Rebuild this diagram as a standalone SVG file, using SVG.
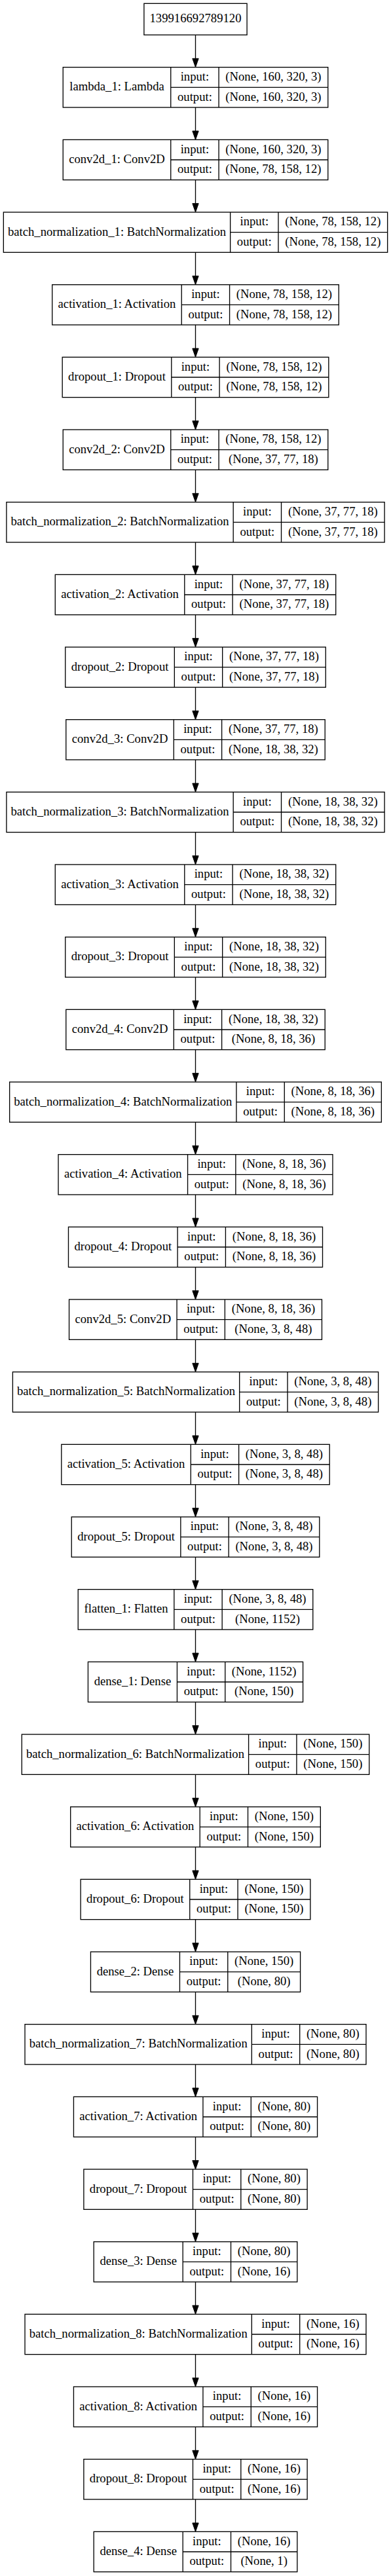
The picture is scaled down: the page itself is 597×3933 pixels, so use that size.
<svg xmlns="http://www.w3.org/2000/svg" width="597" height="3933" viewBox="0 0 597 3933">
<style>
.b{fill:none;stroke:#000;stroke-width:1.33}
.t{font-family:"Liberation Serif","Times New Roman",serif;font-size:18.67px;text-anchor:middle;fill:#000}
.e{stroke:#000;stroke-width:1.33;fill:none;marker-end:url(#ah)}
</style>
<defs>
<marker id="ah" markerUnits="userSpaceOnUse" markerWidth="14" markerHeight="10" refX="0" refY="4.67" orient="auto" overflow="visible"><path d="M0,0 L13.33,4.67 L0,9.33 z" fill="#000" stroke="#000" stroke-width="1"/></marker>
</defs>
<rect x="0" y="0" width="597" height="3933" fill="#fff"/>

<g id="connectors">
<line class="e" x1="298.5" y1="53.33" x2="298.5" y2="89.33"/>
<line class="e" x1="298.5" y1="164" x2="298.5" y2="200"/>
<line class="e" x1="298.5" y1="274.67" x2="298.5" y2="310.67"/>
<line class="e" x1="298.5" y1="385.33" x2="298.5" y2="421.33"/>
<line class="e" x1="298.5" y1="496" x2="298.5" y2="532"/>
<line class="e" x1="298.5" y1="606.67" x2="298.5" y2="642.67"/>
<line class="e" x1="298.5" y1="717.33" x2="298.5" y2="753.33"/>
<line class="e" x1="298.5" y1="828" x2="298.5" y2="864"/>
<line class="e" x1="298.5" y1="938.67" x2="298.5" y2="974.67"/>
<line class="e" x1="298.5" y1="1049.33" x2="298.5" y2="1085.33"/>
<line class="e" x1="298.5" y1="1160" x2="298.5" y2="1196"/>
<line class="e" x1="298.5" y1="1270.67" x2="298.5" y2="1306.67"/>
<line class="e" x1="298.5" y1="1381.33" x2="298.5" y2="1417.33"/>
<line class="e" x1="298.5" y1="1492" x2="298.5" y2="1528"/>
<line class="e" x1="298.5" y1="1602.67" x2="298.5" y2="1638.67"/>
<line class="e" x1="298.5" y1="1713.33" x2="298.5" y2="1749.33"/>
<line class="e" x1="298.5" y1="1824" x2="298.5" y2="1860"/>
<line class="e" x1="298.5" y1="1934.67" x2="298.5" y2="1970.67"/>
<line class="e" x1="298.5" y1="2045.33" x2="298.5" y2="2081.33"/>
<line class="e" x1="298.5" y1="2156" x2="298.5" y2="2192"/>
<line class="e" x1="298.5" y1="2266.67" x2="298.5" y2="2302.67"/>
<line class="e" x1="298.5" y1="2377.33" x2="298.5" y2="2413.33"/>
<line class="e" x1="298.5" y1="2488" x2="298.5" y2="2524"/>
<line class="e" x1="298.5" y1="2598.67" x2="298.5" y2="2634.67"/>
<line class="e" x1="298.5" y1="2709.33" x2="298.5" y2="2745.33"/>
<line class="e" x1="298.5" y1="2820" x2="298.5" y2="2856"/>
<line class="e" x1="298.5" y1="2930.67" x2="298.5" y2="2966.67"/>
<line class="e" x1="298.5" y1="3041.33" x2="298.5" y2="3077.33"/>
<line class="e" x1="298.5" y1="3152" x2="298.5" y2="3188"/>
<line class="e" x1="298.5" y1="3262.67" x2="298.5" y2="3298.67"/>
<line class="e" x1="298.5" y1="3373.33" x2="298.5" y2="3409.33"/>
<line class="e" x1="298.5" y1="3484" x2="298.5" y2="3520"/>
<line class="e" x1="298.5" y1="3594.67" x2="298.5" y2="3630.67"/>
<line class="e" x1="298.5" y1="3705.33" x2="298.5" y2="3741.33"/>
<line class="e" x1="298.5" y1="3816" x2="298.5" y2="3852"/>
</g>

<g id="n_input">
<rect class="b" x="219.9" y="5.33" width="157.2" height="48"/>
<text class="t" x="298.5" y="34.27">139916692789120</text>
</g>

<g id="n_lambda_1" transform="translate(0,102.67)">
<rect class="b" x="96.24" y="0" width="404.53" height="61.33"/>
<path class="b" d="M260.74,0V61.33M334.07,0V61.33M260.74,30.67H500.77"/>
<text class="t" x="178.49" y="35.6">lambda_1: Lambda</text>
<text class="t" x="297.41" y="20.27">input:</text><text class="t" x="297.41" y="50.93">output:</text>
<text class="t" x="417.42" y="20.27">(None, 160, 320, 3)</text><text class="t" x="417.42" y="50.93">(None, 160, 320, 3)</text>
</g>

<g id="n_conv2d_1" transform="translate(0,213.33)">
<rect class="b" x="96.24" y="0" width="404.53" height="61.33"/>
<path class="b" d="M260.74,0V61.33M334.07,0V61.33M260.74,30.67H500.77"/>
<text class="t" x="178.49" y="35.6">conv2d_1: Conv2D</text>
<text class="t" x="297.41" y="20.27">input:</text><text class="t" x="297.41" y="50.93">output:</text>
<text class="t" x="417.42" y="20.27">(None, 160, 320, 3)</text><text class="t" x="417.42" y="50.93">(None, 78, 158, 12)</text>
</g>

<g id="n_batch_normalization_1" transform="translate(0,324)">
<rect class="b" x="5.34" y="0" width="586.33" height="61.33"/>
<path class="b" d="M351.64,0V61.33M424.97,0V61.33M351.64,30.67H591.67"/>
<text class="t" x="178.49" y="35.6">batch_normalization_1: BatchNormalization</text>
<text class="t" x="388.31" y="20.27">input:</text><text class="t" x="388.31" y="50.93">output:</text>
<text class="t" x="508.32" y="20.27">(None, 78, 158, 12)</text><text class="t" x="508.32" y="50.93">(None, 78, 158, 12)</text>
</g>

<g id="n_activation_1" transform="translate(0,434.67)">
<rect class="b" x="79.74" y="0" width="437.53" height="61.33"/>
<path class="b" d="M277.24,0V61.33M350.57,0V61.33M277.24,30.67H517.27"/>
<text class="t" x="178.49" y="35.6">activation_1: Activation</text>
<text class="t" x="313.91" y="20.27">input:</text><text class="t" x="313.91" y="50.93">output:</text>
<text class="t" x="433.92" y="20.27">(None, 78, 158, 12)</text><text class="t" x="433.92" y="50.93">(None, 78, 158, 12)</text>
</g>

<g id="n_dropout_1" transform="translate(0,545.33)">
<rect class="b" x="95.19" y="0" width="406.63" height="61.33"/>
<path class="b" d="M261.79,0V61.33M335.12,0V61.33M261.79,30.67H501.82"/>
<text class="t" x="178.49" y="35.6">dropout_1: Dropout</text>
<text class="t" x="298.46" y="20.27">input:</text><text class="t" x="298.46" y="50.93">output:</text>
<text class="t" x="418.47" y="20.27">(None, 78, 158, 12)</text><text class="t" x="418.47" y="50.93">(None, 78, 158, 12)</text>
</g>

<g id="n_conv2d_2" transform="translate(0,656)">
<rect class="b" x="96.24" y="0" width="404.53" height="61.33"/>
<path class="b" d="M260.74,0V61.33M334.07,0V61.33M260.74,30.67H500.77"/>
<text class="t" x="178.49" y="35.6">conv2d_2: Conv2D</text>
<text class="t" x="297.41" y="20.27">input:</text><text class="t" x="297.41" y="50.93">output:</text>
<text class="t" x="417.42" y="20.27">(None, 78, 158, 12)</text><text class="t" x="417.42" y="50.93">(None, 37, 77, 18)</text>
</g>

<g id="n_batch_normalization_2" transform="translate(0,766.67)">
<rect class="b" x="9.89" y="0" width="577.23" height="61.33"/>
<path class="b" d="M356.19,0V61.33M429.52,0V61.33M356.19,30.67H587.12"/>
<text class="t" x="183.04" y="35.6">batch_normalization_2: BatchNormalization</text>
<text class="t" x="392.86" y="20.27">input:</text><text class="t" x="392.86" y="50.93">output:</text>
<text class="t" x="508.32" y="20.27">(None, 37, 77, 18)</text><text class="t" x="508.32" y="50.93">(None, 37, 77, 18)</text>
</g>

<g id="n_activation_2" transform="translate(0,877.33)">
<rect class="b" x="84.29" y="0" width="428.43" height="61.33"/>
<path class="b" d="M281.79,0V61.33M355.12,0V61.33M281.79,30.67H512.72"/>
<text class="t" x="183.04" y="35.6">activation_2: Activation</text>
<text class="t" x="318.46" y="20.27">input:</text><text class="t" x="318.46" y="50.93">output:</text>
<text class="t" x="433.92" y="20.27">(None, 37, 77, 18)</text><text class="t" x="433.92" y="50.93">(None, 37, 77, 18)</text>
</g>

<g id="n_dropout_2" transform="translate(0,988)">
<rect class="b" x="99.74" y="0" width="397.53" height="61.33"/>
<path class="b" d="M266.34,0V61.33M339.67,0V61.33M266.34,30.67H497.27"/>
<text class="t" x="183.04" y="35.6">dropout_2: Dropout</text>
<text class="t" x="303.01" y="20.27">input:</text><text class="t" x="303.01" y="50.93">output:</text>
<text class="t" x="418.47" y="20.27">(None, 37, 77, 18)</text><text class="t" x="418.47" y="50.93">(None, 37, 77, 18)</text>
</g>

<g id="n_conv2d_3" transform="translate(0,1098.67)">
<rect class="b" x="100.79" y="0" width="395.43" height="61.33"/>
<path class="b" d="M265.29,0V61.33M338.62,0V61.33M265.29,30.67H496.22"/>
<text class="t" x="183.04" y="35.6">conv2d_3: Conv2D</text>
<text class="t" x="301.96" y="20.27">input:</text><text class="t" x="301.96" y="50.93">output:</text>
<text class="t" x="417.42" y="20.27">(None, 37, 77, 18)</text><text class="t" x="417.42" y="50.93">(None, 18, 38, 32)</text>
</g>

<g id="n_batch_normalization_3" transform="translate(0,1209.33)">
<rect class="b" x="9.89" y="0" width="577.23" height="61.33"/>
<path class="b" d="M356.19,0V61.33M429.52,0V61.33M356.19,30.67H587.12"/>
<text class="t" x="183.04" y="35.6">batch_normalization_3: BatchNormalization</text>
<text class="t" x="392.86" y="20.27">input:</text><text class="t" x="392.86" y="50.93">output:</text>
<text class="t" x="508.32" y="20.27">(None, 18, 38, 32)</text><text class="t" x="508.32" y="50.93">(None, 18, 38, 32)</text>
</g>

<g id="n_activation_3" transform="translate(0,1320)">
<rect class="b" x="84.29" y="0" width="428.43" height="61.33"/>
<path class="b" d="M281.79,0V61.33M355.12,0V61.33M281.79,30.67H512.72"/>
<text class="t" x="183.04" y="35.6">activation_3: Activation</text>
<text class="t" x="318.46" y="20.27">input:</text><text class="t" x="318.46" y="50.93">output:</text>
<text class="t" x="433.92" y="20.27">(None, 18, 38, 32)</text><text class="t" x="433.92" y="50.93">(None, 18, 38, 32)</text>
</g>

<g id="n_dropout_3" transform="translate(0,1430.67)">
<rect class="b" x="99.74" y="0" width="397.53" height="61.33"/>
<path class="b" d="M266.34,0V61.33M339.67,0V61.33M266.34,30.67H497.27"/>
<text class="t" x="183.04" y="35.6">dropout_3: Dropout</text>
<text class="t" x="303.01" y="20.27">input:</text><text class="t" x="303.01" y="50.93">output:</text>
<text class="t" x="418.47" y="20.27">(None, 18, 38, 32)</text><text class="t" x="418.47" y="50.93">(None, 18, 38, 32)</text>
</g>

<g id="n_conv2d_4" transform="translate(0,1541.33)">
<rect class="b" x="100.79" y="0" width="395.43" height="61.33"/>
<path class="b" d="M265.29,0V61.33M338.62,0V61.33M265.29,30.67H496.22"/>
<text class="t" x="183.04" y="35.6">conv2d_4: Conv2D</text>
<text class="t" x="301.96" y="20.27">input:</text><text class="t" x="301.96" y="50.93">output:</text>
<text class="t" x="417.42" y="20.27">(None, 18, 38, 32)</text><text class="t" x="417.42" y="50.93">(None, 8, 18, 36)</text>
</g>

<g id="n_batch_normalization_4" transform="translate(0,1652)">
<rect class="b" x="14.64" y="0" width="567.73" height="61.33"/>
<path class="b" d="M360.94,0V61.33M434.27,0V61.33M360.94,30.67H582.37"/>
<text class="t" x="187.79" y="35.6">batch_normalization_4: BatchNormalization</text>
<text class="t" x="397.61" y="20.27">input:</text><text class="t" x="397.61" y="50.93">output:</text>
<text class="t" x="508.32" y="20.27">(None, 8, 18, 36)</text><text class="t" x="508.32" y="50.93">(None, 8, 18, 36)</text>
</g>

<g id="n_activation_4" transform="translate(0,1762.67)">
<rect class="b" x="89.04" y="0" width="418.93" height="61.33"/>
<path class="b" d="M286.54,0V61.33M359.87,0V61.33M286.54,30.67H507.97"/>
<text class="t" x="187.79" y="35.6">activation_4: Activation</text>
<text class="t" x="323.21" y="20.27">input:</text><text class="t" x="323.21" y="50.93">output:</text>
<text class="t" x="433.92" y="20.27">(None, 8, 18, 36)</text><text class="t" x="433.92" y="50.93">(None, 8, 18, 36)</text>
</g>

<g id="n_dropout_4" transform="translate(0,1873.33)">
<rect class="b" x="104.49" y="0" width="388.03" height="61.33"/>
<path class="b" d="M271.09,0V61.33M344.42,0V61.33M271.09,30.67H492.52"/>
<text class="t" x="187.79" y="35.6">dropout_4: Dropout</text>
<text class="t" x="307.76" y="20.27">input:</text><text class="t" x="307.76" y="50.93">output:</text>
<text class="t" x="418.47" y="20.27">(None, 8, 18, 36)</text><text class="t" x="418.47" y="50.93">(None, 8, 18, 36)</text>
</g>

<g id="n_conv2d_5" transform="translate(0,1984)">
<rect class="b" x="105.54" y="0" width="385.93" height="61.33"/>
<path class="b" d="M270.04,0V61.33M343.37,0V61.33M270.04,30.67H491.47"/>
<text class="t" x="187.79" y="35.6">conv2d_5: Conv2D</text>
<text class="t" x="306.71" y="20.27">input:</text><text class="t" x="306.71" y="50.93">output:</text>
<text class="t" x="417.42" y="20.27">(None, 8, 18, 36)</text><text class="t" x="417.42" y="50.93">(None, 3, 8, 48)</text>
</g>

<g id="n_batch_normalization_5" transform="translate(0,2094.67)">
<rect class="b" x="19.39" y="0" width="558.23" height="61.33"/>
<path class="b" d="M365.69,0V61.33M439.02,0V61.33M365.69,30.67H577.62"/>
<text class="t" x="192.54" y="35.6">batch_normalization_5: BatchNormalization</text>
<text class="t" x="402.36" y="20.27">input:</text><text class="t" x="402.36" y="50.93">output:</text>
<text class="t" x="508.32" y="20.27">(None, 3, 8, 48)</text><text class="t" x="508.32" y="50.93">(None, 3, 8, 48)</text>
</g>

<g id="n_activation_5" transform="translate(0,2205.33)">
<rect class="b" x="93.79" y="0" width="409.43" height="61.33"/>
<path class="b" d="M291.29,0V61.33M364.62,0V61.33M291.29,30.67H503.22"/>
<text class="t" x="192.54" y="35.6">activation_5: Activation</text>
<text class="t" x="327.96" y="20.27">input:</text><text class="t" x="327.96" y="50.93">output:</text>
<text class="t" x="433.92" y="20.27">(None, 3, 8, 48)</text><text class="t" x="433.92" y="50.93">(None, 3, 8, 48)</text>
</g>

<g id="n_dropout_5" transform="translate(0,2316)">
<rect class="b" x="109.24" y="0" width="378.53" height="61.33"/>
<path class="b" d="M275.84,0V61.33M349.17,0V61.33M275.84,30.67H487.77"/>
<text class="t" x="192.54" y="35.6">dropout_5: Dropout</text>
<text class="t" x="312.51" y="20.27">input:</text><text class="t" x="312.51" y="50.93">output:</text>
<text class="t" x="418.47" y="20.27">(None, 3, 8, 48)</text><text class="t" x="418.47" y="50.93">(None, 3, 8, 48)</text>
</g>

<g id="n_flatten_1" transform="translate(0,2426.67)">
<rect class="b" x="119.24" y="0" width="358.53" height="61.33"/>
<path class="b" d="M265.84,0V61.33M339.17,0V61.33M265.84,30.67H477.77"/>
<text class="t" x="192.54" y="35.6">flatten_1: Flatten</text>
<text class="t" x="302.51" y="20.27">input:</text><text class="t" x="302.51" y="50.93">output:</text>
<text class="t" x="408.47" y="20.27">(None, 3, 8, 48)</text><text class="t" x="408.47" y="50.93">(None, 1152)</text>
</g>

<g id="n_dense_1" transform="translate(0,2537.33)">
<rect class="b" x="134.44" y="0" width="328.13" height="61.33"/>
<path class="b" d="M270.44,0V61.33M343.77,0V61.33M270.44,30.67H462.57"/>
<text class="t" x="202.44" y="35.6">dense_1: Dense</text>
<text class="t" x="307.11" y="20.27">input:</text><text class="t" x="307.11" y="50.93">output:</text>
<text class="t" x="403.17" y="20.27">(None, 1152)</text><text class="t" x="403.17" y="50.93">(None, 150)</text>
</g>

<g id="n_batch_normalization_6" transform="translate(0,2648)">
<rect class="b" x="33.29" y="0" width="530.43" height="61.33"/>
<path class="b" d="M379.59,0V61.33M452.92,0V61.33M379.59,30.67H563.72"/>
<text class="t" x="206.44" y="35.6">batch_normalization_6: BatchNormalization</text>
<text class="t" x="416.26" y="20.27">input:</text><text class="t" x="416.26" y="50.93">output:</text>
<text class="t" x="508.32" y="20.27">(None, 150)</text><text class="t" x="508.32" y="50.93">(None, 150)</text>
</g>

<g id="n_activation_6" transform="translate(0,2758.67)">
<rect class="b" x="107.69" y="0" width="381.63" height="61.33"/>
<path class="b" d="M305.19,0V61.33M378.52,0V61.33M305.19,30.67H489.32"/>
<text class="t" x="206.44" y="35.6">activation_6: Activation</text>
<text class="t" x="341.86" y="20.27">input:</text><text class="t" x="341.86" y="50.93">output:</text>
<text class="t" x="433.92" y="20.27">(None, 150)</text><text class="t" x="433.92" y="50.93">(None, 150)</text>
</g>

<g id="n_dropout_6" transform="translate(0,2869.33)">
<rect class="b" x="123.14" y="0" width="350.73" height="61.33"/>
<path class="b" d="M289.74,0V61.33M363.07,0V61.33M289.74,30.67H473.87"/>
<text class="t" x="206.44" y="35.6">dropout_6: Dropout</text>
<text class="t" x="326.41" y="20.27">input:</text><text class="t" x="326.41" y="50.93">output:</text>
<text class="t" x="418.47" y="20.27">(None, 150)</text><text class="t" x="418.47" y="50.93">(None, 150)</text>
</g>

<g id="n_dense_2" transform="translate(0,2980)">
<rect class="b" x="138.44" y="0" width="320.13" height="61.33"/>
<path class="b" d="M274.44,0V61.33M347.77,0V61.33M274.44,30.67H458.57"/>
<text class="t" x="206.44" y="35.6">dense_2: Dense</text>
<text class="t" x="311.11" y="20.27">input:</text><text class="t" x="311.11" y="50.93">output:</text>
<text class="t" x="403.17" y="20.27">(None, 150)</text><text class="t" x="403.17" y="50.93">(None, 80)</text>
</g>

<g id="n_batch_normalization_7" transform="translate(0,3090.67)">
<rect class="b" x="38.04" y="0" width="520.93" height="61.33"/>
<path class="b" d="M384.34,0V61.33M457.67,0V61.33M384.34,30.67H558.97"/>
<text class="t" x="211.19" y="35.6">batch_normalization_7: BatchNormalization</text>
<text class="t" x="421.01" y="20.27">input:</text><text class="t" x="421.01" y="50.93">output:</text>
<text class="t" x="508.32" y="20.27">(None, 80)</text><text class="t" x="508.32" y="50.93">(None, 80)</text>
</g>

<g id="n_activation_7" transform="translate(0,3201.33)">
<rect class="b" x="112.44" y="0" width="372.13" height="61.33"/>
<path class="b" d="M309.94,0V61.33M383.27,0V61.33M309.94,30.67H484.57"/>
<text class="t" x="211.19" y="35.6">activation_7: Activation</text>
<text class="t" x="346.61" y="20.27">input:</text><text class="t" x="346.61" y="50.93">output:</text>
<text class="t" x="433.92" y="20.27">(None, 80)</text><text class="t" x="433.92" y="50.93">(None, 80)</text>
</g>

<g id="n_dropout_7" transform="translate(0,3312)">
<rect class="b" x="127.89" y="0" width="341.23" height="61.33"/>
<path class="b" d="M294.49,0V61.33M367.82,0V61.33M294.49,30.67H469.12"/>
<text class="t" x="211.19" y="35.6">dropout_7: Dropout</text>
<text class="t" x="331.16" y="20.27">input:</text><text class="t" x="331.16" y="50.93">output:</text>
<text class="t" x="418.47" y="20.27">(None, 80)</text><text class="t" x="418.47" y="50.93">(None, 80)</text>
</g>

<g id="n_dense_3" transform="translate(0,3422.67)">
<rect class="b" x="143.19" y="0" width="310.63" height="61.33"/>
<path class="b" d="M279.19,0V61.33M352.52,0V61.33M279.19,30.67H453.82"/>
<text class="t" x="211.19" y="35.6">dense_3: Dense</text>
<text class="t" x="315.86" y="20.27">input:</text><text class="t" x="315.86" y="50.93">output:</text>
<text class="t" x="403.17" y="20.27">(None, 80)</text><text class="t" x="403.17" y="50.93">(None, 16)</text>
</g>

<g id="n_batch_normalization_8" transform="translate(0,3533.33)">
<rect class="b" x="38.04" y="0" width="520.93" height="61.33"/>
<path class="b" d="M384.34,0V61.33M457.67,0V61.33M384.34,30.67H558.97"/>
<text class="t" x="211.19" y="35.6">batch_normalization_8: BatchNormalization</text>
<text class="t" x="421.01" y="20.27">input:</text><text class="t" x="421.01" y="50.93">output:</text>
<text class="t" x="508.32" y="20.27">(None, 16)</text><text class="t" x="508.32" y="50.93">(None, 16)</text>
</g>

<g id="n_activation_8" transform="translate(0,3644)">
<rect class="b" x="112.44" y="0" width="372.13" height="61.33"/>
<path class="b" d="M309.94,0V61.33M383.27,0V61.33M309.94,30.67H484.57"/>
<text class="t" x="211.19" y="35.6">activation_8: Activation</text>
<text class="t" x="346.61" y="20.27">input:</text><text class="t" x="346.61" y="50.93">output:</text>
<text class="t" x="433.92" y="20.27">(None, 16)</text><text class="t" x="433.92" y="50.93">(None, 16)</text>
</g>

<g id="n_dropout_8" transform="translate(0,3754.67)">
<rect class="b" x="127.89" y="0" width="341.23" height="61.33"/>
<path class="b" d="M294.49,0V61.33M367.82,0V61.33M294.49,30.67H469.12"/>
<text class="t" x="211.19" y="35.6">dropout_8: Dropout</text>
<text class="t" x="331.16" y="20.27">input:</text><text class="t" x="331.16" y="50.93">output:</text>
<text class="t" x="418.47" y="20.27">(None, 16)</text><text class="t" x="418.47" y="50.93">(None, 16)</text>
</g>

<g id="n_dense_4" transform="translate(0,3865.33)">
<rect class="b" x="143.19" y="0" width="310.63" height="61.33"/>
<path class="b" d="M279.19,0V61.33M352.52,0V61.33M279.19,30.67H453.82"/>
<text class="t" x="211.19" y="35.6">dense_4: Dense</text>
<text class="t" x="315.86" y="20.27">input:</text><text class="t" x="315.86" y="50.93">output:</text>
<text class="t" x="403.17" y="20.27">(None, 16)</text><text class="t" x="403.17" y="50.93">(None, 1)</text>
</g>
</svg>
